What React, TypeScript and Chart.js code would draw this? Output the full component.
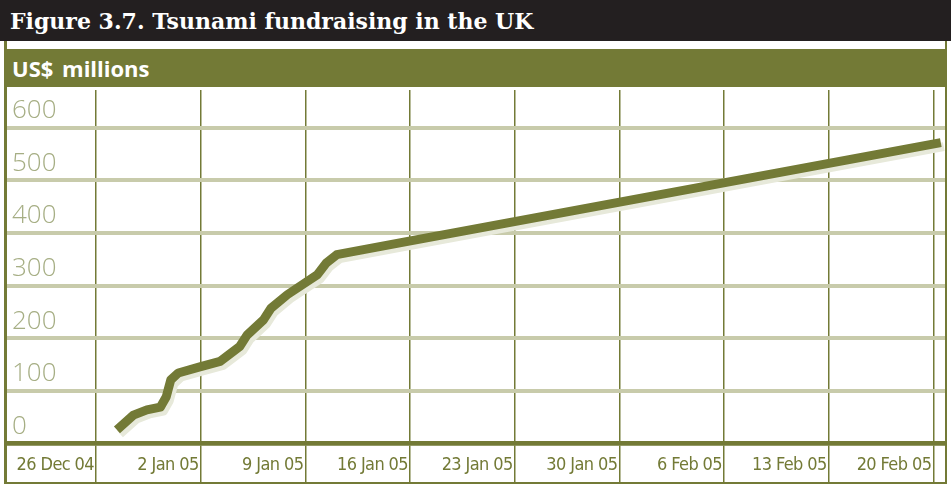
import React, { useEffect, useRef } from "react";
import { Chart, registerables } from "chart.js";

Chart.register(...registerables);

const TITLE = "Figure 3.7. Tsunami fundraising in the UK";
const UNIT_LABEL = "US$ millions";

// Days counted from 26 Dec 2004
const days = [1.4, 2.5, 3.4, 4.3, 4.7, 5.0, 5.5, 7.0, 8.3, 9.6, 10.1, 11.2, 11.7, 12.8, 14.8, 15.4, 16.1, 20.4, 56.5];
// Cumulative funds raised, US$ millions
const amounts = [26, 54, 64, 69, 89, 121, 134, 146, 156, 184, 206, 235, 257, 283, 321, 343, 359, 382, 572];

const xTickDays = [0, 7, 14, 21, 28, 35, 42, 49, 56];
const xTickLabels = ["26 Dec 04", "2 Jan 05", "9 Jan 05", "16 Jan 05", "23 Jan 05", "30 Jan 05", "6 Feb 05", "13 Feb 05", "20 Feb 05"];
const yTickValues = [0, 100, 200, 300, 400, 500, 600];

const OLIVE = "#737a36";
const GRID = "#c8cbab";
const SHADOW = "#e7e9da";
const YLABEL = "#a6ae84";

const shadowPlugin = {
  id: "lineShadow",
  beforeDatasetDraw(chart: any) {
    const ctx = chart.ctx;
    ctx.save();
    ctx.shadowColor = SHADOW;
    ctx.shadowOffsetX = 3;
    ctx.shadowOffsetY = 4;
    ctx.shadowBlur = 0;
  },
  afterDatasetDraw(chart: any) {
    chart.ctx.restore();
  },
};

// Tighter letter spacing for the (condensed) date labels, which are drawn after the datasets
const condensePlugin = {
  id: "condenseXLabels",
  afterDatasetsDraw(chart: any) {
    (chart.ctx as any).letterSpacing = "-0.6px";
  },
  afterDraw(chart: any) {
    (chart.ctx as any).letterSpacing = "0px";
  },
};

export default function App() {
  const canvasRef = useRef<HTMLCanvasElement | null>(null);

  useEffect(() => {
    if (!canvasRef.current) return;
    const chart = new Chart(canvasRef.current, {
      type: "line",
      data: {
        datasets: [
          {
            data: days.map((d, i) => ({ x: d, y: amounts[i] })),
            borderColor: OLIVE,
            borderWidth: 9,
            borderJoinStyle: "round",
            borderCapStyle: "butt",
            pointRadius: 0,
            tension: 0,
            fill: false,
          },
        ],
      },
      options: {
        animation: false,
        responsive: false,
        events: [],
        layout: { padding: { left: 6, right: 6, top: 3, bottom: 1 } },
        plugins: { legend: { display: false }, tooltip: { enabled: false }, title: { display: false } },
        scales: {
          x: {
            type: "linear",
            min: -6.02,
            max: 56.78,
            afterBuildTicks: (s: any) => {
              s.ticks = xTickDays.map((v) => ({ value: v }));
            },
            afterFit: (s: any) => {
              s.height = 39.5;
              s.paddingLeft = 0;
              s.paddingRight = 0;
            },
            grid: { color: OLIVE, lineWidth: 1.5, tickLength: 39.5, drawTicks: true },
            border: { color: OLIVE, width: 4.5 },
            ticks: {
              z: 1,
              autoSkip: false,
              maxRotation: 0,
              minRotation: 0,
              align: "end",
              padding: -28,
              labelOffset: -2,
              color: OLIVE,
              font: { family: "'DejaVu Sans Condensed', 'Liberation Sans Narrow', sans-serif", size: 18 },
              callback: (_v: any, i: number) => xTickLabels[i],
            },
          },
          y: {
            type: "linear",
            min: 0,
            max: 672,
            afterBuildTicks: (s: any) => {
              s.ticks = yTickValues.map((v) => ({ value: v }));
            },
            afterFit: (s: any) => {
              s.width = 0;
              s.paddingTop = 0;
              s.paddingBottom = 0;
            },
            grid: {
              color: (c: any) => (c.tick && c.tick.value === 0 ? OLIVE : GRID),
              lineWidth: (c: any) => (c.tick && c.tick.value === 0 ? 4.5 : 4),
              drawTicks: false,
            },
            border: { display: false },
            ticks: {
              mirror: true,
              padding: 6,
              labelOffset: -17,
              color: YLABEL,
              font: { family: "'Open Sans', sans-serif", size: 26, weight: "300" },
            },
          },
        },
      },
      plugins: [shadowPlugin, condensePlugin],
    } as any);
    return () => chart.destroy();
  }, []);

  return (
    <div style={{ position: "fixed", left: 0, top: 0, width: 951, height: 484, background: "#fff", overflow: "hidden" }}>
      <div
        style={{
          position: "absolute",
          left: 0,
          top: 0,
          width: 951,
          height: 41,
          background: "#231f20",
          color: "#fff",
          fontFamily: "'DejaVu Serif', serif",
          fontWeight: "bold",
          fontSize: 22,
          lineHeight: "42px",
          paddingLeft: 10,
          boxSizing: "border-box",
          whiteSpace: "nowrap",
        }}
      >
        {TITLE}
      </div>
      <div
        style={{
          position: "absolute",
          left: 4,
          top: 49,
          width: 943,
          height: 38,
          background: OLIVE,
          color: "#fff",
          fontFamily: "'Open Sans', sans-serif",
          fontWeight: 700,
          fontSize: 22,
          lineHeight: "38px",
          paddingLeft: 8,
          boxSizing: "border-box",
          whiteSpace: "nowrap",
          wordSpacing: 3,
        }}
      >
        {UNIT_LABEL}
      </div>
      <div style={{ position: "absolute", left: 0, top: 87, width: 951, height: 397 }}>
        <canvas ref={canvasRef} width={951} height={397} style={{ display: "block" }} />
      </div>
      <div style={{ position: "absolute", left: 4, top: 41, width: 2.5, height: 443, background: OLIVE }} />
      <div style={{ position: "absolute", left: 944.5, top: 41, width: 2.5, height: 443, background: OLIVE }} />
      <div style={{ position: "absolute", left: 4, top: 482, width: 943, height: 2, background: OLIVE }} />
    </div>
  );
}
